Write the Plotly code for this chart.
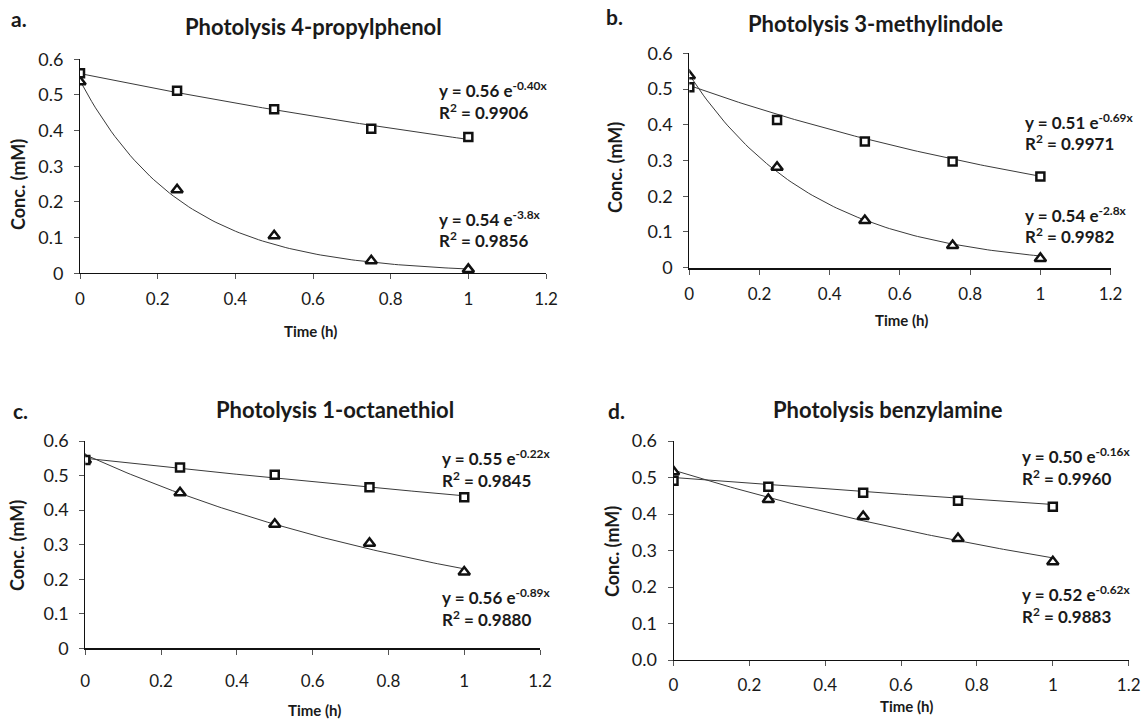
import numpy as np
import plotly.graph_objects as go

# ---------------- data ----------------
time_h = [0, 0.25, 0.5, 0.75, 1.0]

a_square = [0.561, 0.512, 0.460, 0.405, 0.382]
a_triangle = [0.537, 0.234, 0.105, 0.035, 0.011]
b_square = [0.505, 0.413, 0.353, 0.297, 0.255]
b_triangle = [0.537, 0.281, 0.132, 0.062, 0.026]
c_square = [0.545, 0.523, 0.502, 0.466, 0.437]
c_triangle = [0.545, 0.450, 0.359, 0.304, 0.221]
d_square = [0.491, 0.475, 0.458, 0.436, 0.420]
d_triangle = [0.516, 0.440, 0.393, 0.333, 0.269]

# exponential trendline coefficients shown on the chart (y = A e^(k x))
fit_A_square = [0.56, 0.51, 0.55, 0.50]
fit_k_square = [-0.40, -0.69, -0.22, -0.16]
fit_r2_square = ["0.9906", "0.9971", "0.9845", "0.9960"]
fit_A_triangle = [0.54, 0.54, 0.56, 0.52]
fit_k_triangle = [-3.8, -2.8, -0.89, -0.62]
fit_r2_triangle = ["0.9856", "0.9982", "0.9880", "0.9883"]
fit_A_text_square = ["0.56", "0.51", "0.55", "0.50"]
fit_k_text_square = ["-0.40", "-0.69", "-0.22", "-0.16"]
fit_A_text_triangle = ["0.54", "0.54", "0.56", "0.52"]
fit_k_text_triangle = ["-3.8", "-2.8", "-0.89", "-0.62"]

panel_letters = ["a.", "b.", "c.", "d."]
panel_titles = ["Photolysis 4-propylphenol", "Photolysis 3-methylindole",
                "Photolysis 1-octanethiol", "Photolysis benzylamine"]
x_title = "Time (h)"
y_title = "Conc. (mM)"
x_range = [0, 1.2]
y_range = [0, 0.6]

squares = [a_square, b_square, c_square, d_square]
triangles = [a_triangle, b_triangle, c_triangle, d_triangle]

# ---------------- layout geometry (pixels) ----------------
W, H = 1143, 720
FONT = "Lato"
TXT = "#1a1a1a"

# plot boxes: x0, x1 (for x=0 and x=1.2), ytop (0.6), ybottom (0)
boxes = [
    (80.0, 546.0, 59.3, 273.3),
    (689.3, 1110.6, 53.3, 267.7),
    (85.3, 540.0, 441.0, 648.3),
    (673.5, 1128.7, 441.0, 660.0),
]
xline_w = [1, 2, 2, 1]
xlab_standoff = [5, 5, 11, 5]
letter_pos = [(19, 18), (614, 16), (20, 410), (616, 410)]
title_pos = [(313, 27), (875, 23), (335, 409), (888, 409)]
xtitle_pos = [(310, 331), (901, 320), (314, 710), (906, 706)]
ytitle_pos = [(18, 185), (615, 168), (17, 546), (612, 552)]
eq_x = [437, 1023, 440, 1020]
r2_y_sq = [111, 143, 479, 477]
r2_y_tri = [240, 236, 618, 615]


def px(x):
    return x / W


def py(y):
    return 1 - y / H


fig = go.Figure()
annotations = []
layout_axes = {}

xfit = np.linspace(0, 1, 101)

for i in range(4):
    sfx = "" if i == 0 else str(i + 1)
    xa, ya = "x" + sfx, "y" + sfx
    x0, x1, yt, yb = boxes[i]

    # trendlines
    for A, k in ((fit_A_square[i], fit_k_square[i]), (fit_A_triangle[i], fit_k_triangle[i])):
        fig.add_trace(go.Scatter(
            x=xfit, y=A * np.exp(k * xfit), mode="lines",
            line=dict(color="#3a3a3a", width=1), xaxis=xa, yaxis=ya,
            showlegend=False, hoverinfo="skip"))
    # markers
    fig.add_trace(go.Scatter(
        x=time_h, y=triangles[i], mode="markers",
        marker=dict(symbol="triangle-up", size=10, color="white",
                    line=dict(color="#111", width=2.5)),
        xaxis=xa, yaxis=ya, showlegend=False))
    fig.add_trace(go.Scatter(
        x=time_h, y=squares[i], mode="markers",
        marker=dict(symbol="square", size=8, color="white",
                    line=dict(color="#111", width=2.5)),
        xaxis=xa, yaxis=ya, showlegend=False))

    layout_axes["xaxis" + sfx] = dict(
        domain=[px(x0), px(x1)], range=x_range, dtick=0.2, tick0=0,
        anchor=ya, showline=True, linecolor="#111", linewidth=xline_w[i],
        ticks="outside", ticklen=5, tickcolor="#555", tickwidth=1,
        showgrid=False, zeroline=False, ticklabelstandoff=xlab_standoff[i],
        automargin=False, fixedrange=True,
        tickfont=dict(family=FONT, size=17, color=TXT))
    layout_axes["yaxis" + sfx] = dict(
        domain=[py(yb), py(yt)], range=y_range, dtick=0.1, tick0=0,
        anchor=xa, showline=True, linecolor="#111", linewidth=1,
        ticks="outside", ticklen=5, tickcolor="#555", tickwidth=1,
        showgrid=False, zeroline=False, ticklabelstandoff=7,
        automargin=False, fixedrange=True,
        tickformat=".1f" if i == 3 else "",
        tickfont=dict(family=FONT, size=18, color=TXT))

    annotations.append(dict(
        text="<b>%s</b>" % panel_letters[i], x=px(letter_pos[i][0]), y=py(letter_pos[i][1]),
        xref="paper", yref="paper", showarrow=False, xanchor="center", yanchor="middle",
        font=dict(family=FONT, size=21, color=TXT)))
    annotations.append(dict(
        text="<b>%s</b>" % panel_titles[i], x=px(title_pos[i][0]), y=py(title_pos[i][1]),
        xref="paper", yref="paper", showarrow=False, xanchor="center", yanchor="middle",
        font=dict(family=FONT, size=22, color=TXT)))
    annotations.append(dict(
        text="<b>%s</b>" % x_title, x=px(xtitle_pos[i][0]), y=py(xtitle_pos[i][1]),
        xref="paper", yref="paper", showarrow=False, xanchor="center", yanchor="middle",
        font=dict(family=FONT, size=15, color=TXT)))
    annotations.append(dict(
        text="<b>%s</b>" % y_title, x=px(ytitle_pos[i][0]), y=py(ytitle_pos[i][1]),
        xref="paper", yref="paper", showarrow=False, xanchor="center", yanchor="middle",
        textangle=-90, font=dict(family=FONT, size=18, color=TXT)))

    for A_t, k_t, r2, ry in ((fit_A_text_square[i], fit_k_text_square[i], fit_r2_square[i], r2_y_sq[i]),
                             (fit_A_text_triangle[i], fit_k_text_triangle[i], fit_r2_triangle[i], r2_y_tri[i])):
        annotations.append(dict(
            text="<b>y = %s e<sup>%sx</sup></b>" % (A_t, k_t), x=px(eq_x[i]), y=py(ry - 22),
            xref="paper", yref="paper", showarrow=False, xanchor="left", yanchor="middle",
            font=dict(family=FONT, size=17, color=TXT)))
        annotations.append(dict(
            text="<b>R<sup>2</sup> = %s</b>" % r2, x=px(eq_x[i]), y=py(ry),
            xref="paper", yref="paper", showarrow=False, xanchor="left", yanchor="middle",
            font=dict(family=FONT, size=17, color=TXT)))

fig.update_layout(
    template="none",
    width=W, height=H, autosize=False, showlegend=False,
    margin=dict(l=0, r=0, t=0, b=0, pad=0, autoexpand=False),
    paper_bgcolor="white", plot_bgcolor="white",
    annotations=annotations, **layout_axes)

fig.write_html("out.html", config={"displayModeBar": False},
               post_script="document.body.style.margin='0px';document.body.style.padding='0px';")
